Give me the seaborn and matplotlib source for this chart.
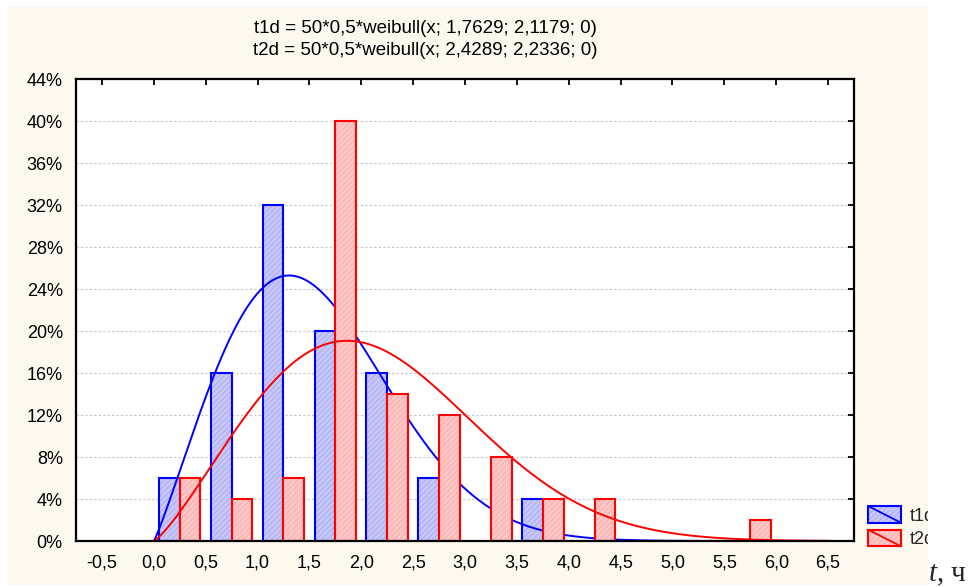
import numpy as np
import pandas as pd
import matplotlib
matplotlib.use("Agg")
import matplotlib.pyplot as plt
from matplotlib.patches import Rectangle
from matplotlib.lines import Line2D
from matplotlib.legend_handler import HandlerBase
from matplotlib.ticker import MultipleLocator, FuncFormatter
import seaborn as sns

# Histogram bins (hours) and share of observations falling in each bin, %
bin_centres = [0.25, 0.75, 1.25, 1.75, 2.25, 2.75, 3.25, 3.75, 4.25, 4.75, 5.25, 5.75]
t1d_pct = [6, 16, 32, 20, 16, 6, 0, 4, 0, 0, 0, 0]
t2d_pct = [6, 4, 6, 40, 14, 12, 8, 4, 4, 0, 0, 2]
series_names = ["t1d", "t2d"]

# Fitted Weibull curves: N * bin width * weibull(x; scale, shape, threshold)
n_obs = 50
bin_width = 0.5
weibull_params = {"t1d": (1.7629, 2.1179, 0.0), "t2d": (2.4289, 2.2336, 0.0)}
title_lines = [
    "t1d = 50*0,5*weibull(x; 1,7629; 2,1179; 0)",
    "t2d = 50*0,5*weibull(x; 2,4289; 2,2336; 0)",
]
x_label = "$t$, ч"

# Styling
edge_colors = {"t1d": "#0000ff", "t2d": "#ff0000"}
face_colors = {"t1d": "#c6c6f7", "t2d": "#ffc6c6"}
hatch_colors = {"t1d": "#a4a4f0", "t2d": "#f2a6a6"}
CREAM = "#fdf9ef"

sns.set_style("white")
plt.rcParams["font.family"] = ["Liberation Sans", "DejaVu Sans"]
plt.rcParams["mathtext.fontset"] = "custom"
plt.rcParams["mathtext.it"] = "Liberation Serif:italic"
plt.rcParams["mathtext.rm"] = "Liberation Serif"
plt.rcParams["hatch.linewidth"] = 0.5

W, H = 976, 587
fig = plt.figure(figsize=(W / 100, H / 100), dpi=100, facecolor="white")


def fx(px):
    return px / W


def fy(py):
    return 1 - py / H


# cream graph panel
fig.add_artist(Rectangle((fx(8), fy(585)), fx(928) - fx(8), fy(7) - fy(585),
                         transform=fig.transFigure, facecolor=CREAM,
                         edgecolor="none", zorder=-10))

ax = fig.add_axes([fx(76), fy(541), (854 - 76) / W, (541 - 79) / H])
ax.set_facecolor("white")

df = pd.DataFrame({
    "t": bin_centres * 2,
    "pct": t1d_pct + t2d_pct,
    "series": [series_names[0]] * len(bin_centres) + [series_names[1]] * len(bin_centres),
})

sns.barplot(data=df, x="t", y="pct", hue="series", hue_order=series_names,
            native_scale=True, dodge=True, width=0.8, errorbar=None,
            palette=face_colors, legend=False, ax=ax)

# layer order: blue bars, blue curve, red bars, red curve
base_z = {"t1d": 1.0, "t2d": 1.4}
for name, container in zip(series_names, ax.containers):
    z = base_z[name]
    for bar in container:
        bar.set_edgecolor(edge_colors[name])
        bar.set_linewidth(1.5)
        bar.set_zorder(z + 0.06)
        if bar.get_height() > 0:
            hatch = Rectangle(bar.get_xy(), bar.get_width(), bar.get_height(),
                              facecolor="none", edgecolor=hatch_colors[name],
                              hatch="//////", linewidth=0, zorder=z + 0.05)
            ax.add_patch(hatch)
        else:
            bar.set_linewidth(0)
        # fill sits underneath the hatch, outline above it
        fill = Rectangle(bar.get_xy(), bar.get_width(), bar.get_height(),
                         facecolor=face_colors[name], edgecolor="none",
                         linewidth=0, zorder=z)
        ax.add_patch(fill)
        bar.set_facecolor("none")


def weibull_pdf(x, b, c, theta):
    z = np.clip((x - theta) / b, 0, None)
    return (c / b) * z ** (c - 1) * np.exp(-z ** c)


xs = np.linspace(0, 6.5, 500)
for name in series_names:
    b, c, theta = weibull_params[name]
    ys = n_obs * bin_width * weibull_pdf(xs, b, c, theta) * 100 / n_obs
    sns.lineplot(x=xs, y=ys, ax=ax, color=edge_colors[name], linewidth=1.4,
                 estimator=None, sort=False, zorder=base_z[name] + 0.2)

ax.set_xlim(-0.75, 6.75)
ax.set_ylim(0, 44)
ax.xaxis.set_major_locator(MultipleLocator(0.5))
ax.yaxis.set_major_locator(MultipleLocator(4))
ax.xaxis.set_major_formatter(FuncFormatter(lambda v, p: f"{v:.1f}".replace(".", ",")))
ax.yaxis.set_major_formatter(FuncFormatter(lambda v, p: f"{int(round(v))}%"))
ax.set_xlabel("")
ax.set_ylabel("")
ax.tick_params(direction="in", length=4, width=1.3, top=True, right=True,
               labelsize=13, pad=9.5, colors="black")
ax.set_axisbelow(True)
ax.yaxis.grid(True, color="#c4c4c4", linestyle=(0, (2, 2)), linewidth=0.8)
ax.xaxis.grid(False)
for sp in ax.spines.values():
    sp.set_visible(True)
    sp.set_color("black")
    sp.set_linewidth(1.6)

for i, line in enumerate(title_lines):
    fig.text(fx(425), fy(28.5 + 22 * i), line, ha="center", va="center",
             fontsize=13.5, color="black")


class BoxWithDiagonal(HandlerBase):
    def create_artists(self, legend, orig_handle, xdescent, ydescent,
                       width, height, fontsize, trans):
        name = orig_handle.get_label()
        x0, y0 = -xdescent, -ydescent
        fill = Rectangle((x0, y0), width, height, facecolor=face_colors[name],
                         edgecolor="none", transform=trans)
        hatch = Rectangle((x0, y0), width, height, facecolor="none",
                          edgecolor=hatch_colors[name], hatch="//////",
                          linewidth=0, transform=trans)
        box = Rectangle((x0, y0), width, height, facecolor="none",
                        edgecolor=edge_colors[name], linewidth=1.5,
                        transform=trans)
        diag = Line2D([x0, x0 + width], [y0 + height, y0],
                      color=edge_colors[name], linewidth=1.3, transform=trans)
        return [fill, hatch, box, diag]


proxies = [Rectangle((0, 0), 1, 1, label=n) for n in series_names]
fig.legend(handles=proxies, labels=series_names,
           handler_map={Rectangle: BoxWithDiagonal()},
           loc="upper left", bbox_to_anchor=(fx(868), fy(506)),
           frameon=False, borderpad=0, borderaxespad=0,
           handlelength=1.83, handleheight=1.05, handletextpad=0.5,
           labelspacing=0.28, fontsize=13)

# plain margin to the right of the graph panel
fig.add_artist(Rectangle((fx(928), 0), 1 - fx(928), 1, transform=fig.transFigure,
                         facecolor="white", edgecolor="none", zorder=20))
fig.text(fx(928), fy(581), x_label, ha="left", va="baseline",
         fontsize=21, family="Liberation Serif", zorder=21)

fig.savefig("out.png", dpi=100, facecolor=fig.get_facecolor())
